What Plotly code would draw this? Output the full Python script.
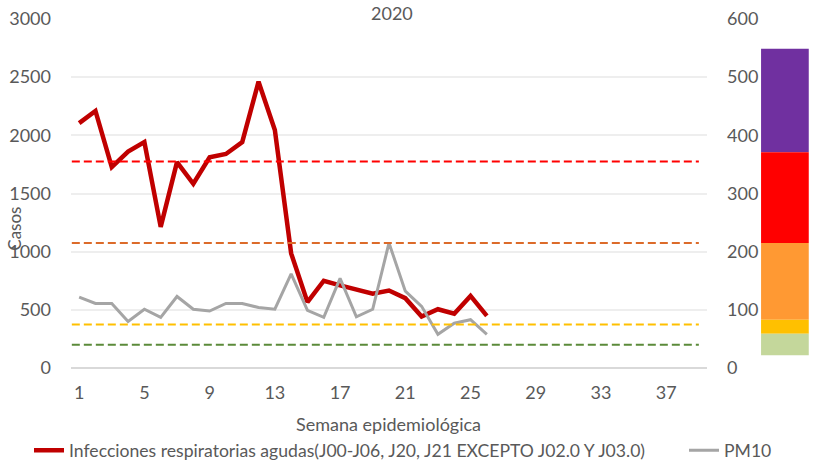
import plotly.graph_objects as go

weeks = list(range(1, 27))
ira_cases = [2105, 2210, 1727, 1860, 1942, 1213, 1770, 1584, 1812, 1840,
             1942, 2461, 2046, 985, 566, 750, 710, 672, 638, 666,
             600, 442, 505, 466, 620, 448]
pm10 = [122, 111, 111, 80, 101, 87, 123, 101, 98, 111,
        111, 104, 101, 162, 99, 87, 154, 88, 101, 215,
        132, 106, 58, 77, 83, 58]

tick_weeks = [1, 5, 9, 13, 17, 21, 25, 29, 33, 37]
left_ticks = [0, 500, 1000, 1500, 2000, 2500, 3000]
right_ticks = [0, 100, 200, 300, 400, 500, 600]

# PM10 threshold lines (right axis units)
thr_values = [355, 215, 75, 40]
thr_colors = ["#FF0000", "#DC6B2A", "#FFC000", "#5B8A3A"]

# colour scale bands on the right (right axis units)
band_low = [371, 215, 83, 59, 22]
band_high = [549, 371, 215, 83, 59]
band_colors = ["#7030A0", "#FF0000", "#FF9933", "#FFC000", "#C4D79B"]

series_names = ["Infecciones respiratorias agudas(J00-J06, J20, J21 EXCEPTO J02.0 Y J03.0)", "PM10"]

FONT = "Lato"
GREY = "#595959"

fig = go.Figure()

fig.add_trace(go.Scatter(x=weeks, y=ira_cases, mode="lines", name=series_names[0],
                         line=dict(color="#C00000", width=4.5), yaxis="y",
                         legend="legend"))
fig.add_trace(go.Scatter(x=weeks, y=pm10, mode="lines", name=series_names[1],
                         line=dict(color="#A5A5A5", width=3), yaxis="y2",
                         legend="legend2"))

shapes = []
for v, c in zip(thr_values, thr_colors):
    shapes.append(dict(type="line", xref="x", yref="y2", x0=0.55, x1=39, y0=v, y1=v,
                       line=dict(color=c, width=2, dash="8px,4px"), layer="above"))
for lo, hi, c in zip(band_low, band_high, band_colors):
    shapes.append(dict(type="rect", xref="paper", yref="y2", x0=1.085, x1=1.16,
                       y0=lo, y1=hi, fillcolor=c, line=dict(width=0), layer="above"))

PW, PH, L, T = 636, 349.5, 71, 19
LEG_Y = -(451 - T - PH) / PH

fig.update_layout(
    width=817, height=469,
    margin=dict(l=L, r=817 - L - PW, t=T, b=469 - T - PH, autoexpand=False),
    paper_bgcolor="white", plot_bgcolor="white",
    font=dict(family=FONT, color=GREY, size=17),
    shapes=shapes,
    showlegend=True,
    legend=dict(orientation="h", x=(29 - L) / PW, xanchor="left",
                y=LEG_Y, yanchor="middle",
                font=dict(size=17.6, color=GREY), bgcolor="rgba(0,0,0,0)",
                itemwidth=30),
    legend2=dict(orientation="h", x=(684 - L) / PW, xanchor="left",
                 y=LEG_Y, yanchor="middle",
                 font=dict(size=17.6, color=GREY), bgcolor="rgba(0,0,0,0)",
                 itemwidth=30),
    xaxis=dict(range=[0.5, 39.5], tickmode="array", tickvals=tick_weeks,
               ticktext=[str(t) for t in tick_weeks], showgrid=False, zeroline=False,
               showline=False, ticks="", ticklabelstandoff=12,
               tickfont=dict(size=18, color=GREY)),
    yaxis=dict(range=[0, 3000], tickmode="array", tickvals=left_ticks,
               showgrid=True, gridcolor="#EEEEEE", gridwidth=1.5, zeroline=True,
               zerolinecolor="#D9D9D9", zerolinewidth=2, showline=False, ticks="",
               ticklabelstandoff=19, tickfont=dict(size=18, color=GREY)),
    yaxis2=dict(range=[0, 600], overlaying="y", side="right", tickmode="array",
                tickvals=right_ticks, showgrid=False, zeroline=False, showline=False,
                ticks="", ticklabelstandoff=19, tickfont=dict(size=18, color=GREY)),
    annotations=[
        dict(text="2020", xref="paper", yref="paper", x=(392 - L) / PW,
             y=1 + T / PH, xanchor="center", yanchor="top", showarrow=False,
             font=dict(size=18, color=GREY)),
        dict(text="Casos", xref="paper", yref="paper", x=(15 - L) / PW,
             y=(T + PH - 229) / PH, xanchor="center", yanchor="middle",
             textangle=-90, showarrow=False, font=dict(size=17, color=GREY)),
        dict(text="Semana epidemiológica", xref="paper", yref="paper",
             x=(388 - L) / PW, y=-(425 - T - PH) / PH, xanchor="center",
             yanchor="middle", showarrow=False, font=dict(size=18, color=GREY)),
    ],
)

fig.write_html("out.html", config={"displayModeBar": False},
               post_script="document.body.style.margin='0';")
